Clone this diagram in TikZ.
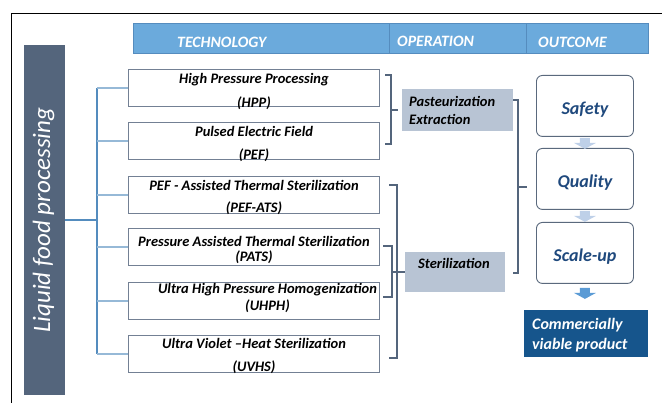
\documentclass[tikz,border=0pt]{standalone}
\usepackage{fontspec}
\setmainfont{Carlito}
\usepackage{xcolor}
\usetikzlibrary{positioning,calc}
\definecolor{headblue}{RGB}{107,170,220}
\definecolor{headline}{RGB}{85,140,190}
\definecolor{slate}{RGB}{84,101,124}
\definecolor{boxline}{RGB}{115,128,148}
\definecolor{trunkblue}{RGB}{84,140,190}
\definecolor{branchblue}{RGB}{150,185,215}
\definecolor{opfill}{RGB}{184,196,212}
\definecolor{outline}{RGB}{90,105,125}
\definecolor{outtext}{RGB}{31,73,125}
\definecolor{paleblue}{RGB}{190,208,232}
\definecolor{arrowblue}{RGB}{91,155,213}
\definecolor{prodblue}{RGB}{22,85,140}
\tikzset{
  headcell/.style={draw=headline,fill=headblue,line width=0.8pt,anchor=north west,inner sep=0pt},
  headtext/.style={anchor=base west,text=white,font=\fontsize{15.8}{18}\selectfont\bfseries\itshape,inner sep=0pt},
  techbox/.style={draw=boxline,fill=white,line width=0.9pt,anchor=north west,minimum width=251pt,minimum height=37pt,inner sep=0pt},
  techtext/.style={anchor=base,font=\fontsize{14.5}{17}\selectfont\bfseries\itshape,inner sep=0pt},
  opbox/.style={fill=opfill,anchor=north west,inner sep=0pt},
  optext/.style={anchor=base west,font=\fontsize{14.5}{17}\selectfont\bfseries\itshape,inner sep=0pt},
  outbox/.style={draw=outline,fill=white,line width=0.9pt,rounded corners=6pt,anchor=north west,minimum width=97pt,minimum height=61pt,
    text=outtext,font=\fontsize{18}{21}\selectfont\bfseries\itshape,inner sep=0pt,text height=16.6pt,text depth=0pt},
  bracket/.style={draw=slate,line width=1.8pt},
  trunk/.style={draw=trunkblue,line width=1.3pt},
  branch/.style={draw=branchblue,line width=1.3pt}
}
% one technology box and its two text lines
\newcommand{\techbox}[7]{%
  \node[techbox] (#1) at (128,#2) {};
  \node[techtext] (#1-a) at (#7,#4) {#3};
  \node[techtext] (#1-b) at (#7,#6) {#5};
}
% square bracket opening to the left
\newcommand{\sidebracket}[4]{%
  \draw[bracket] (#1,#3) -- (#2,#3) -- (#2,#4) -- (#1,#4);
}
% block arrow pointing down below a node
\newcommand{\downblock}[3]{%
  \fill[#2] ($(#1.south)+(-5,#3)$) -- ++(10,0) -- ++(0,5) -- ++(6,0)
    -- ++(-11,6) -- ++(-11,-6) -- ++(6,0) -- cycle;
}

\begin{document}
\begin{tikzpicture}[x=1pt,y=-1pt]
\useasboundingbox (0,0) rectangle (662,403);

% frame
\draw[black,line width=0.9pt] (11,403) -- (11,13) -- (662,13);

% column heads
\node[headcell,minimum width=256pt,minimum height=30pt] (tech) at (133,23) {};
\node[headcell,minimum width=137pt,minimum height=30pt] (oper) at (389,23) {};
\node[headcell,minimum width=122pt,minimum height=30pt] (outc) at (526,23) {};
\node[headtext] (tech-t) at (177,48) {TECHNOLOGY};
\node[headtext] (oper-t) at (397,47) {OPERATION};
\node[headtext] (outc-t) at (538,48) {OUTCOME};

% side bar
\node[fill=slate,anchor=north west,minimum width=41pt,minimum height=350pt,inner sep=0pt] (bar) at (24,45) {};
\node[rotate=90,text=white,font=\fontsize{25}{30}\selectfont\itshape] (bar-t) at ([xshift=-1pt]bar.center) {Liquid food processing};

% technologies
\techbox{hpp}{69}{High Pressure Processing}{84}{(HPP)}{107.5}{254}
\techbox{pef}{122}{Pulsed Electric Field}{137}{(PEF)}{160}{254}
\techbox{pefats}{176}{PEF - Assisted Thermal Sterilization}{191}{(PEF-ATS)}{213}{254}
\techbox{pats}{228}{Pressure Assisted Thermal Sterilization}{247}{(PATS)}{261.5}{254}
\techbox{uhph}{282}{Ultra High Pressure Homogenization}{294}{(UHPH)}{311}{267.5}
\techbox{uvhs}{335}{Ultra Violet --Heat Sterilization}{349}{(UVHS)}{372}{254}

% tree from the side bar
\coordinate (trunk) at (97,220);
\draw[trunk] (bar.east |- trunk) -- (trunk);
\draw[trunk] (trunk |- hpp.west) -- (trunk |- uvhs.west);
\foreach \b in {hpp,pef,pefats,pats,uhph,uvhs}
  \draw[branch] (trunk |- \b.west) -- (\b.west);

% operations
\node[opbox,minimum width=111pt,minimum height=42pt] (past) at (402,89) {};
\node[optext] (past-a) at (409,107) {Pasteurization};
\node[optext] (past-b) at (409,125) {Extraction};
\node[opbox,minimum width=100pt,minimum height=40pt] (ster) at (405,252) {};
\node[optext] (ster-t) at (418,269) {Sterilization};

% brackets
\sidebracket{385}{391}{75}{144}
\draw[bracket] (391,110) -- (398,110);
\sidebracket{389}{397}{185}{358}
\sidebracket{383}{392}{246}{297}
\draw[bracket] (392,272) -- (ster.west |- 0,272);
\sidebracket{513}{518}{100}{273}
\draw[bracket] (518,187) -- (527,187);

% outcomes
\node[outbox] (safety) at (536,75) {Safety};
\node[outbox] (quality) at (536,148) {Quality};
\node[outbox] (scale) at (536,222) {Scale-up};
\downblock{safety}{paleblue}{1}
\downblock{quality}{paleblue}{1}
\downblock{scale}{arrowblue}{4}

\node[fill=prodblue,anchor=north west,minimum width=124pt,minimum height=47pt,inner sep=0pt] (prod) at (524,310) {};
\node[anchor=base west,text=white,font=\fontsize{16}{19}\selectfont\bfseries\itshape,inner sep=0pt] (prod-a) at (532,330) {Commercially};
\node[anchor=base west,text=white,font=\fontsize{16}{19}\selectfont\bfseries\itshape,inner sep=0pt] (prod-b) at (532,350) {viable product};
\end{tikzpicture}
\end{document}
